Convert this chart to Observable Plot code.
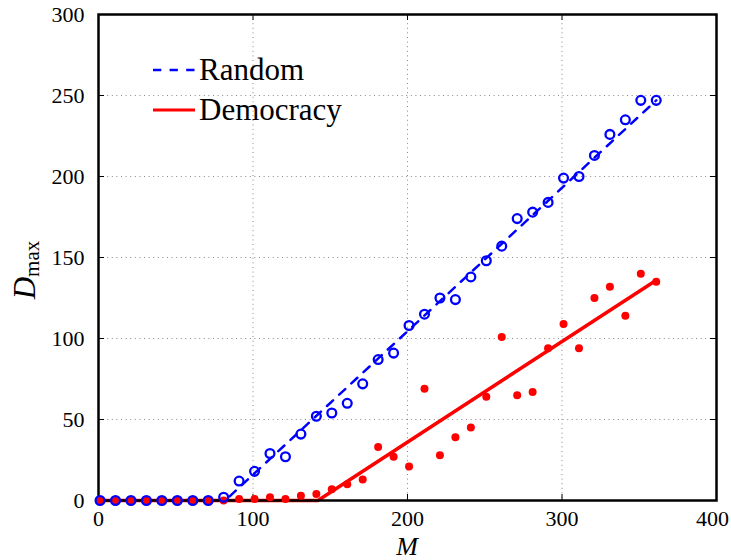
<!DOCTYPE html>
<html><head><meta charset="utf-8">
<script src="https://cdn.jsdelivr.net/npm/d3@7"></script>
<script src="https://cdn.jsdelivr.net/npm/@observablehq/plot@0.6"></script>
<style>body{margin:0;background:#fff} svg{display:block}</style>
</head><body><div id="chart"></div>
<script>
const M = [1,11,21,31,41,51,61,71,81,91,101,111,121,131,141,151,161,171,181,191,201,211,221,231,241,251,261,271,281,291,301,311,321,331,341,351,361];
const randomD = [0,0,0,0,0,0,0,0,2,12,18,29,27,41,52,54,60,72,87,91,108,115,125,124,138,148,157,174,178,184,199,200,213,226,235,247,247];
const democracyD = [0,0,0,0,0,0,0,0,0,1,1,2,1,3,4,7,10,13,33,27,21,69,28,39,45,64,101,65,67,94,109,94,125,132,114,140,135];
const randomFitM = [0, 82, 361];
const randomFitD = [0, 0, 247];
const democracyFitM = [0, 142, 361];
const democracyFitD = [0, 0, 136];
const xTicks = [0,100,200,300,400];
const yTicks = [0,50,100,150,200,250,300];
const seriesNames = ["Random", "Democracy"];

const W = 731, H = 560, mt = 14, mb = 60, ml = 98, mr = 15;
const innerH = H - mt - mb, innerW = W - ml - mr;

const randomPts = M.map((m, i) => ({M: m, D: randomD[i]}));
const demPts = M.map((m, i) => ({M: m, D: democracyD[i]}));
const randomFit = randomFitM.map((m, i) => ({M: m, D: randomFitD[i]}));
const demFit = democracyFitM.map((m, i) => ({M: m, D: democracyFitD[i]}));

const font = "'Liberation Serif', 'Times New Roman', serif";
const grid = {stroke: "#888", strokeOpacity: 1, strokeWidth: 1, strokeDasharray: "1,3.6"};

const plot = Plot.plot({
  width: W, height: H,
  marginTop: mt, marginBottom: mb, marginLeft: ml, marginRight: mr,
  style: {fontFamily: font, fontSize: "22px", background: "white", color: "black"},
  x: {domain: [0, 400], label: null},
  y: {domain: [0, 300], label: null},
  marks: [
    Plot.gridX(xTicks, grid),
    Plot.gridY(yTicks, grid),
    Plot.tickX(xTicks, {x: d => d, insetTop: innerH - 6, stroke: "black", strokeWidth: 1}),
    Plot.tickX(xTicks, {x: d => d, insetBottom: innerH - 6, stroke: "black", strokeWidth: 1}),
    Plot.tickY(yTicks, {y: d => d, insetRight: innerW - 6, stroke: "black", strokeWidth: 1}),
    Plot.tickY(yTicks, {y: d => d, insetLeft: innerW - 6, stroke: "black", strokeWidth: 1}),
    Plot.axisX(xTicks.slice(0, -1), {tickSize: 0, tickPadding: 10, label: null}),
    Plot.axisX(xTicks.slice(-1), {tickSize: 0, tickPadding: 10, label: null, dx: -4}),
    Plot.axisY(yTicks, {tickSize: 0, tickPadding: 14, label: null}),
    Plot.line(randomFit, {x: "M", y: "D", stroke: "blue", strokeWidth: 2.5, strokeDasharray: "8.3,8.3"}),
    Plot.line(demFit, {x: "M", y: "D", stroke: "red", strokeWidth: 3.5}),
    Plot.frame({stroke: "black", strokeWidth: 2.5}),
    Plot.dot(demPts, {x: "M", y: "D", r: 4, fill: "red", stroke: "none"}),
    Plot.dot(randomPts, {x: "M", y: "D", r: 4.4, fill: "none", stroke: "blue", strokeWidth: 2.3})
  ]
});

const svg = d3.select(plot);
const leg = svg.append("g").attr("font-family", font).attr("fill", "black").attr("text-anchor", "start");
leg.append("line").attr("x1", 153).attr("x2", 195).attr("y1", 70).attr("y2", 70)
  .attr("stroke", "blue").attr("stroke-width", 2.5).attr("stroke-dasharray", "8.3,8.3");
leg.append("text").attr("x", 199).attr("y", 80).attr("font-size", 31).attr("text-anchor", "start").text(seriesNames[0]);
leg.append("line").attr("x1", 153).attr("x2", 195).attr("y1", 110).attr("y2", 110)
  .attr("stroke", "red").attr("stroke-width", 3);
leg.append("text").attr("x", 199).attr("y", 120).attr("font-size", 31).attr("text-anchor", "start").text(seriesNames[1]);

const yl = svg.append("text").attr("font-family", font).attr("fill", "black")
  .attr("text-anchor", "middle").attr("transform", "translate(35,270) rotate(-90)");
yl.append("tspan").attr("font-style", "italic").attr("font-size", 31).text("D");
yl.append("tspan").attr("font-size", 21).attr("dy", 4).text("max");

svg.append("text").attr("font-family", font).attr("fill", "black")
  .attr("text-anchor", "middle").attr("x", ml + innerW / 2).attr("y", 555)
  .attr("font-style", "italic").attr("font-size", 26).text("M");

document.getElementById("chart").appendChild(plot);
</script>
</body></html>
